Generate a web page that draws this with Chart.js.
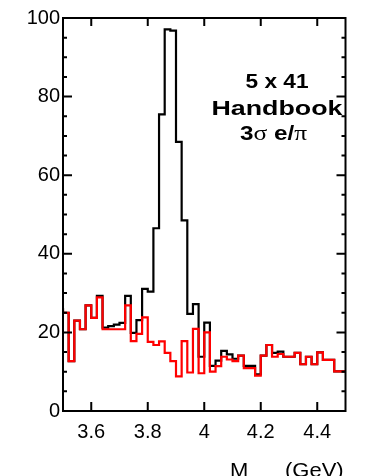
<!DOCTYPE html>
<html>
<head>
<meta charset="utf-8">
<script src="https://cdn.jsdelivr.net/npm/chart.js@4"></script>
<style>
html, body { margin: 0; padding: 0; background: #fff; }
#wrap { width: 373px; height: 476px; }
</style>
</head>
<body>
<div id="wrap"><canvas id="massChart" width="373" height="476"></canvas></div>
<script>
// histogram binning (GeV)
const binLow = 3.5;
const binWidth = 0.02;

// counts per bin
const allCounts = [26.3, 25.0, 12.7, 23.0, 20.8, 26.9, 23.7, 29.3, 21.2, 21.6,
                   22.0, 22.4, 29.3, 19.9, 23.1, 31.1, 30.4, 46.5, 75.5, 97.1,
                   96.8, 68.5, 48.5, 24.7, 27.2, 13.8, 22.5, 11.5, 12.8, 15.3,
                   14.4, 13.3, 14.1, 11.5, 11.5, 9.3, 14.1, 16.8, 14.8, 15.1,
                   13.8, 13.8, 14.8, 11.9, 13.8, 11.9, 14.9, 13.0, 13.0, 10.1];
const bkgCounts = [25.8, 25.0, 12.7, 23.0, 20.8, 26.9, 23.7, 28.9, 20.8, 20.8,
                   20.8, 20.8, 26.9, 17.8, 19.6, 23.8, 17.6, 16.8, 17.7, 14.8,
                   12.7, 8.8, 17.8, 9.8, 20.9, 9.6, 20.0, 10.0, 11.4, 13.8,
                   13.1, 12.7, 14.1, 10.9, 10.9, 9.0, 14.1, 16.8, 13.8, 14.5,
                   13.8, 13.8, 14.8, 11.9, 13.8, 11.9, 14.9, 13.0, 13.0, 10.1];

const xTicks = [3.6, 3.8, 4.0, 4.2, 4.4];
const yTicks = [0, 5, 10, 15, 20, 25, 30, 35, 40, 45, 50, 55, 60, 65, 70, 75, 80, 85, 90, 95, 100];
const yLabelled = [0, 20, 40, 60, 80, 100];

const labelLines = ['5 x 41', 'Handbook'];

// step points: one per bin low edge, plus the last upper edge
function toSteps(counts) {
    const pts = counts.map((c, i) => ({ x: binLow + i * binWidth, y: c }));
    pts.push({ x: binLow + counts.length * binWidth, y: counts[counts.length - 1] });
    return pts;
}

// frame, inward ticks, text label and axis title
const framePlugin = {
    id: 'frame',
    afterDraw(chart) {
        const ctx = chart.ctx;
        const a = chart.chartArea;
        const xs = chart.scales.x, ys = chart.scales.y;
        ctx.save();
        ctx.strokeStyle = '#000';
        ctx.lineWidth = 2;
        ctx.strokeRect(a.left, a.top, a.right - a.left, a.bottom - a.top);
        ctx.beginPath();
        ys.ticks.forEach(t => {
            const py = ys.getPixelForValue(t.value);
            const len = yLabelled.includes(t.value) ? 9 : 4;
            ctx.moveTo(a.left, py); ctx.lineTo(a.left + len, py);
            ctx.moveTo(a.right, py); ctx.lineTo(a.right - len, py);
        });
        xs.ticks.forEach(t => {
            const px = xs.getPixelForValue(t.value);
            ctx.moveTo(px, a.bottom); ctx.lineTo(px, a.bottom - 9);
            ctx.moveTo(px, a.top); ctx.lineTo(px, a.top + 8);
        });
        ctx.stroke();

        // stretched bold label
        ctx.fillStyle = '#000';
        const widths = [63, 131];
        const bases = [88, 115];
        ctx.font = 'bold 21px "Liberation Sans", Arial, sans-serif';
        labelLines.forEach((txt, i) => {
            const w = ctx.measureText(txt).width;
            ctx.save();
            ctx.translate(277 - widths[i] / 2, bases[i]);
            ctx.scale(widths[i] / w, 1);
            ctx.fillText(txt, 0, 0);
            ctx.restore();
        });
        // 3 sigma e/pi line, mixed fonts
        const parts = [
            ['3', 'bold 21px "Liberation Sans", Arial, sans-serif'],
            ['\u03c3', '22px "Liberation Serif", "Times New Roman", serif'],
            [' e/', 'bold 21px "Liberation Sans", Arial, sans-serif'],
            ['\u03c0', '22px "Liberation Serif", "Times New Roman", serif']
        ];
        let total = 0;
        parts.forEach(p => { ctx.font = p[1]; total += ctx.measureText(p[0]).width; });
        ctx.save();
        ctx.translate(240, 140);
        ctx.scale(67 / total, 1);
        let cx = 0;
        parts.forEach(p => { ctx.font = p[1]; ctx.fillText(p[0], cx, 0); cx += ctx.measureText(p[0]).width; });
        ctx.restore();

        // axis title, cut by the bottom edge
        ctx.font = '20px "Liberation Sans", Arial, sans-serif';
        ctx.save();
        ctx.translate(230, 477);
        ctx.scale(1.1, 1);
        ctx.fillText('M', 0, 0);
        ctx.restore();
        ctx.font = '11px "Liberation Sans", Arial, sans-serif';
        ctx.fillText('ee', 247, 484);
        ctx.font = '20px "Liberation Sans", Arial, sans-serif';
        ctx.save();
        ctx.translate(285, 477);
        ctx.scale(1.1, 1);
        ctx.fillText('(GeV)', 0, 0);
        ctx.restore();
        ctx.restore();
    }
};

const tickFont = { family: '"Liberation Sans", Arial, sans-serif', size: 20 };

new Chart(document.getElementById('massChart').getContext('2d'), {
    type: 'line',
    data: {
        datasets: [
            {
                label: 'background',
                data: toSteps(bkgCounts),
                borderColor: '#ff0000',
                borderWidth: 2.2,
                stepped: 'after',
                pointRadius: 0,
                fill: false,
                order: 0
            },
            {
                label: 'all',
                data: toSteps(allCounts),
                borderColor: '#000000',
                borderWidth: 2.2,
                stepped: 'after',
                pointRadius: 0,
                fill: false,
                order: 1
            }
        ]
    },
    options: {
        responsive: false,
        animation: false,
        events: [],
        layout: { padding: { top: 18, right: 27.5, bottom: 0, left: 0 } },
        plugins: {
            legend: { display: false },
            tooltip: { enabled: false }
        },
        scales: {
            x: {
                type: 'linear',
                min: 3.5,
                max: 4.5,
                grid: { display: false, drawTicks: false },
                border: { display: false },
                afterBuildTicks: (scale) => { scale.ticks = xTicks.map(v => ({ value: v })); },
                afterFit: (scale) => { scale.height = 65; },
                ticks: {
                    color: '#000',
                    font: tickFont,
                    padding: 9,
                    maxRotation: 0,
                    autoSkip: false,
                    callback: (v) => String(Math.round(v * 10) / 10)
                }
            },
            y: {
                type: 'linear',
                min: 0,
                max: 100,
                grid: { display: false, drawTicks: false },
                border: { display: false },
                afterBuildTicks: (scale) => { scale.ticks = yTicks.map(v => ({ value: v })); },
                afterFit: (scale) => { scale.width = 63; },
                ticks: {
                    color: '#000',
                    font: tickFont,
                    padding: 3,
                    autoSkip: false,
                    callback: (v) => yLabelled.includes(v) ? String(v) : ''
                }
            }
        }
    },
    plugins: [framePlugin]
});
</script>
</body>
</html>
